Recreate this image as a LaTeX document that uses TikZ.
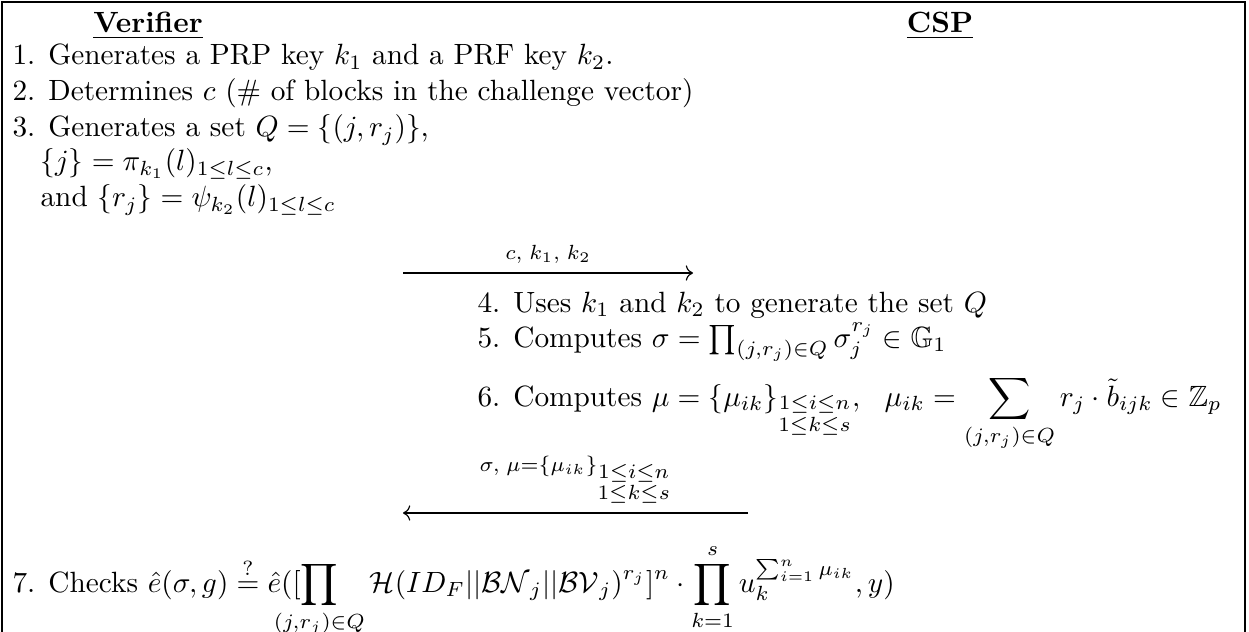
\documentclass[tikz,border=0pt]{standalone}
\usepackage{amsmath,amssymb,mathtools}
\usetikzlibrary{arrows.meta}

\begin{document}
\begin{tikzpicture}[x=0.3413pt, y=-0.3413pt,
    party/.style={anchor=base, inner sep=0pt, font=\bfseries},
    stepline/.style={anchor=base west, inner sep=0pt},
    msg/.style={-{Computer Modern Rightarrow}, line width=0.4pt},
    msglabel/.style={above=3pt, inner sep=0pt}
  ]
  \useasboundingbox (0,0) rectangle (1249,632);
  \draw[line width=0.5pt] (2,640) -- (2,2) -- (1245,2) -- (1245,640);

  % the two parties
  \node[party] (verifier) at (148,33) {\underline{Verifier}};
  \node[party] (csp) at (940,33) {\underline{CSP}};

  % verifier: challenge
  \node[stepline] (v1) at (12,65) {1. Generates a PRP key $k_1$ and a PRF key $k_2$.};
  \node[stepline] (v2) at (12,101) {2. Determines $c$ (\# of blocks in the challenge vector)};
  \node[stepline] (v3) at (12,137) {3. Generates a set $Q=\{(j,r_j)\}$,};
  \node[stepline] (v3b) at (40,171) {$\{j\}=\pi_{k_1}(l)_{1\leq l\leq c}$,};
  \node[stepline] (v3c) at (40,207) {and $\{r_j\}=\psi_{k_2}(l)_{1\leq l\leq c}$};

  \coordinate (c1a) at (403,273);
  \coordinate (c1b) at (693,273);
  \draw[msg] (c1a) -- (c1b) node[midway, msglabel] (m1) {$\scriptstyle c,\;k_1,\;k_2$};

  % csp: proof
  \node[stepline] (p4) at (477,312) {4. Uses $k_1$ and $k_2$ to generate the set $Q$};
  \node[stepline] (p5) at (477,347) {5. Computes $\sigma=\prod_{(j,r_j)\in Q}\sigma_j^{r_j}\in\mathbb{G}_1$};
  \node[stepline] (p6) at (477,406) {6. Computes $\displaystyle\mu=\{\mu_{ik}\}_{\substack{1\leq i\leq n\\1\leq k\leq s}},\ \ \mu_{ik}=\sum_{(j,r_j)\in Q}r_j\cdot\tilde{b}_{ijk}\in\mathbb{Z}_p$};

  \coordinate (c2a) at (748,513);
  \coordinate (c2b) at (403,513);
  \draw[msg] (c2a) -- (c2b) node[midway, msglabel] (m2) {$\scriptstyle\sigma,\;\mu=\{\mu_{ik}\}_{\substack{1\leq i\leq n\\1\leq k\leq s}}$};

  % verifier: check
  \node[stepline] (v7) at (12,592) {7. Checks $\displaystyle\hat{e}(\sigma,g)\stackrel{?}{=}\hat{e}([\smashoperator[l]{\prod_{(j,r_j)\in Q}}\mathcal{H}(ID_F||\mathcal{BN}_j||\mathcal{BV}_j)^{r_j}]^n\cdot\prod_{k=1}^{s}u_k^{\sum_{i=1}^{n}\mu_{ik}},y)$};
\end{tikzpicture}
\end{document}
